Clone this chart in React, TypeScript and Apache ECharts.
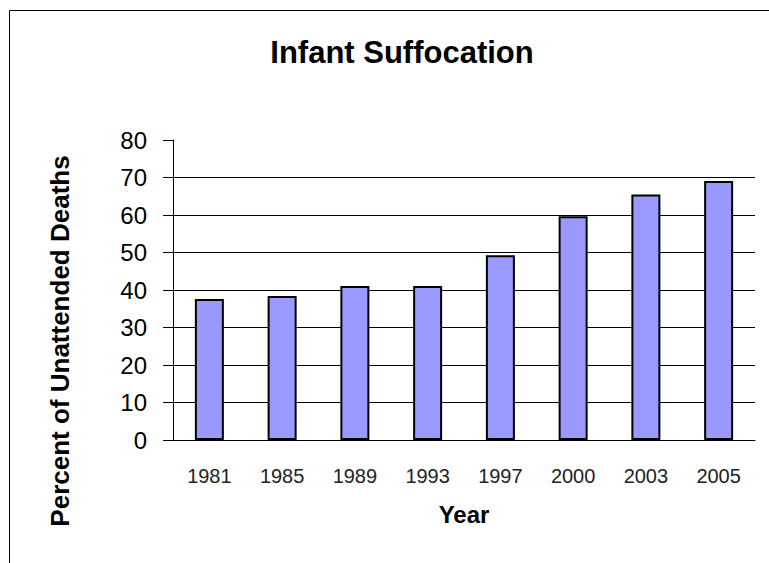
import React, { useEffect, useRef } from "react";
import * as echarts from "echarts";

const years = ["1981", "1985", "1989", "1993", "1997", "2000", "2003", "2005"];
const percentUnattended = [37.6, 38.4, 41.1, 41.1, 49.3, 59.7, 65.5, 69.1];
const yTicks = { min: 0, max: 80, interval: 10 };
const titleText = "Infant Suffocation";
const xName = "Year";
const yName = "Percent of Unattended Deaths";

const FONT = "'Liberation Sans', Arial, sans-serif";

export default function App() {
  const ref = useRef<HTMLDivElement>(null);
  useEffect(() => {
    if (!ref.current) return;
    const chart = echarts.init(ref.current, null, { renderer: "svg" });
    chart.setOption({
      animation: false,
      backgroundColor: "#fff",
      title: {
        text: titleText,
        left: 397,
        top: 32,
        textAlign: "center",
        textStyle: { fontFamily: FONT, fontSize: 31, fontWeight: "bold", color: "#000" },
      },
      grid: { left: 173, top: 140, right: 14, bottom: 123, containLabel: false },
      xAxis: {
        type: "category",
        data: years,
        name: xName,
        nameLocation: "middle",
        nameGap: 62,
        nameTextStyle: { fontFamily: FONT, fontSize: 24, fontWeight: "bold", color: "#000" },
        axisLine: { show: true, lineStyle: { color: "#000", width: 1 } },
        axisTick: { show: false },
        axisLabel: { fontFamily: FONT, fontSize: 20, color: "#222", margin: 26 },
      },
      yAxis: {
        type: "value",
        min: yTicks.min,
        max: yTicks.max,
        interval: yTicks.interval,
        axisLine: { show: true, lineStyle: { color: "#000", width: 1 } },
        axisTick: { show: true, length: 10, lineStyle: { color: "#000", width: 1 } },
        axisLabel: { fontFamily: FONT, fontSize: 24, color: "#000", margin: 26 },
        splitLine: { show: true, showMaxLine: false, showMinLine: false, lineStyle: { color: "#000", width: 1 } },
      },
      series: [
        {
          type: "bar",
          data: percentUnattended,
          barWidth: 29,
          itemStyle: { color: "#9999FF", borderColor: "#000", borderWidth: 2 },
        },
      ],
      graphic: [
        {
          type: "rect",
          shape: { x: 9.5, y: 10.5, width: 900, height: 700 },
          style: { fill: "none", stroke: "#000", lineWidth: 1 },
          silent: true,
        },
        {
          type: "text",
          x: 60,
          y: 341,
          rotation: Math.PI / 2,
          style: {
            text: yName,
            fontFamily: FONT,
            fontSize: 26,
            fontWeight: "bold",
            fill: "#000",
            textAlign: "center",
            textVerticalAlign: "middle",
          },
        },
      ],
    });
    return () => chart.dispose();
  }, []);
  return (
    <div
      ref={ref}
      style={{ position: "absolute", left: 0, top: 0, width: 769, height: 563 }}
    />
  );
}
